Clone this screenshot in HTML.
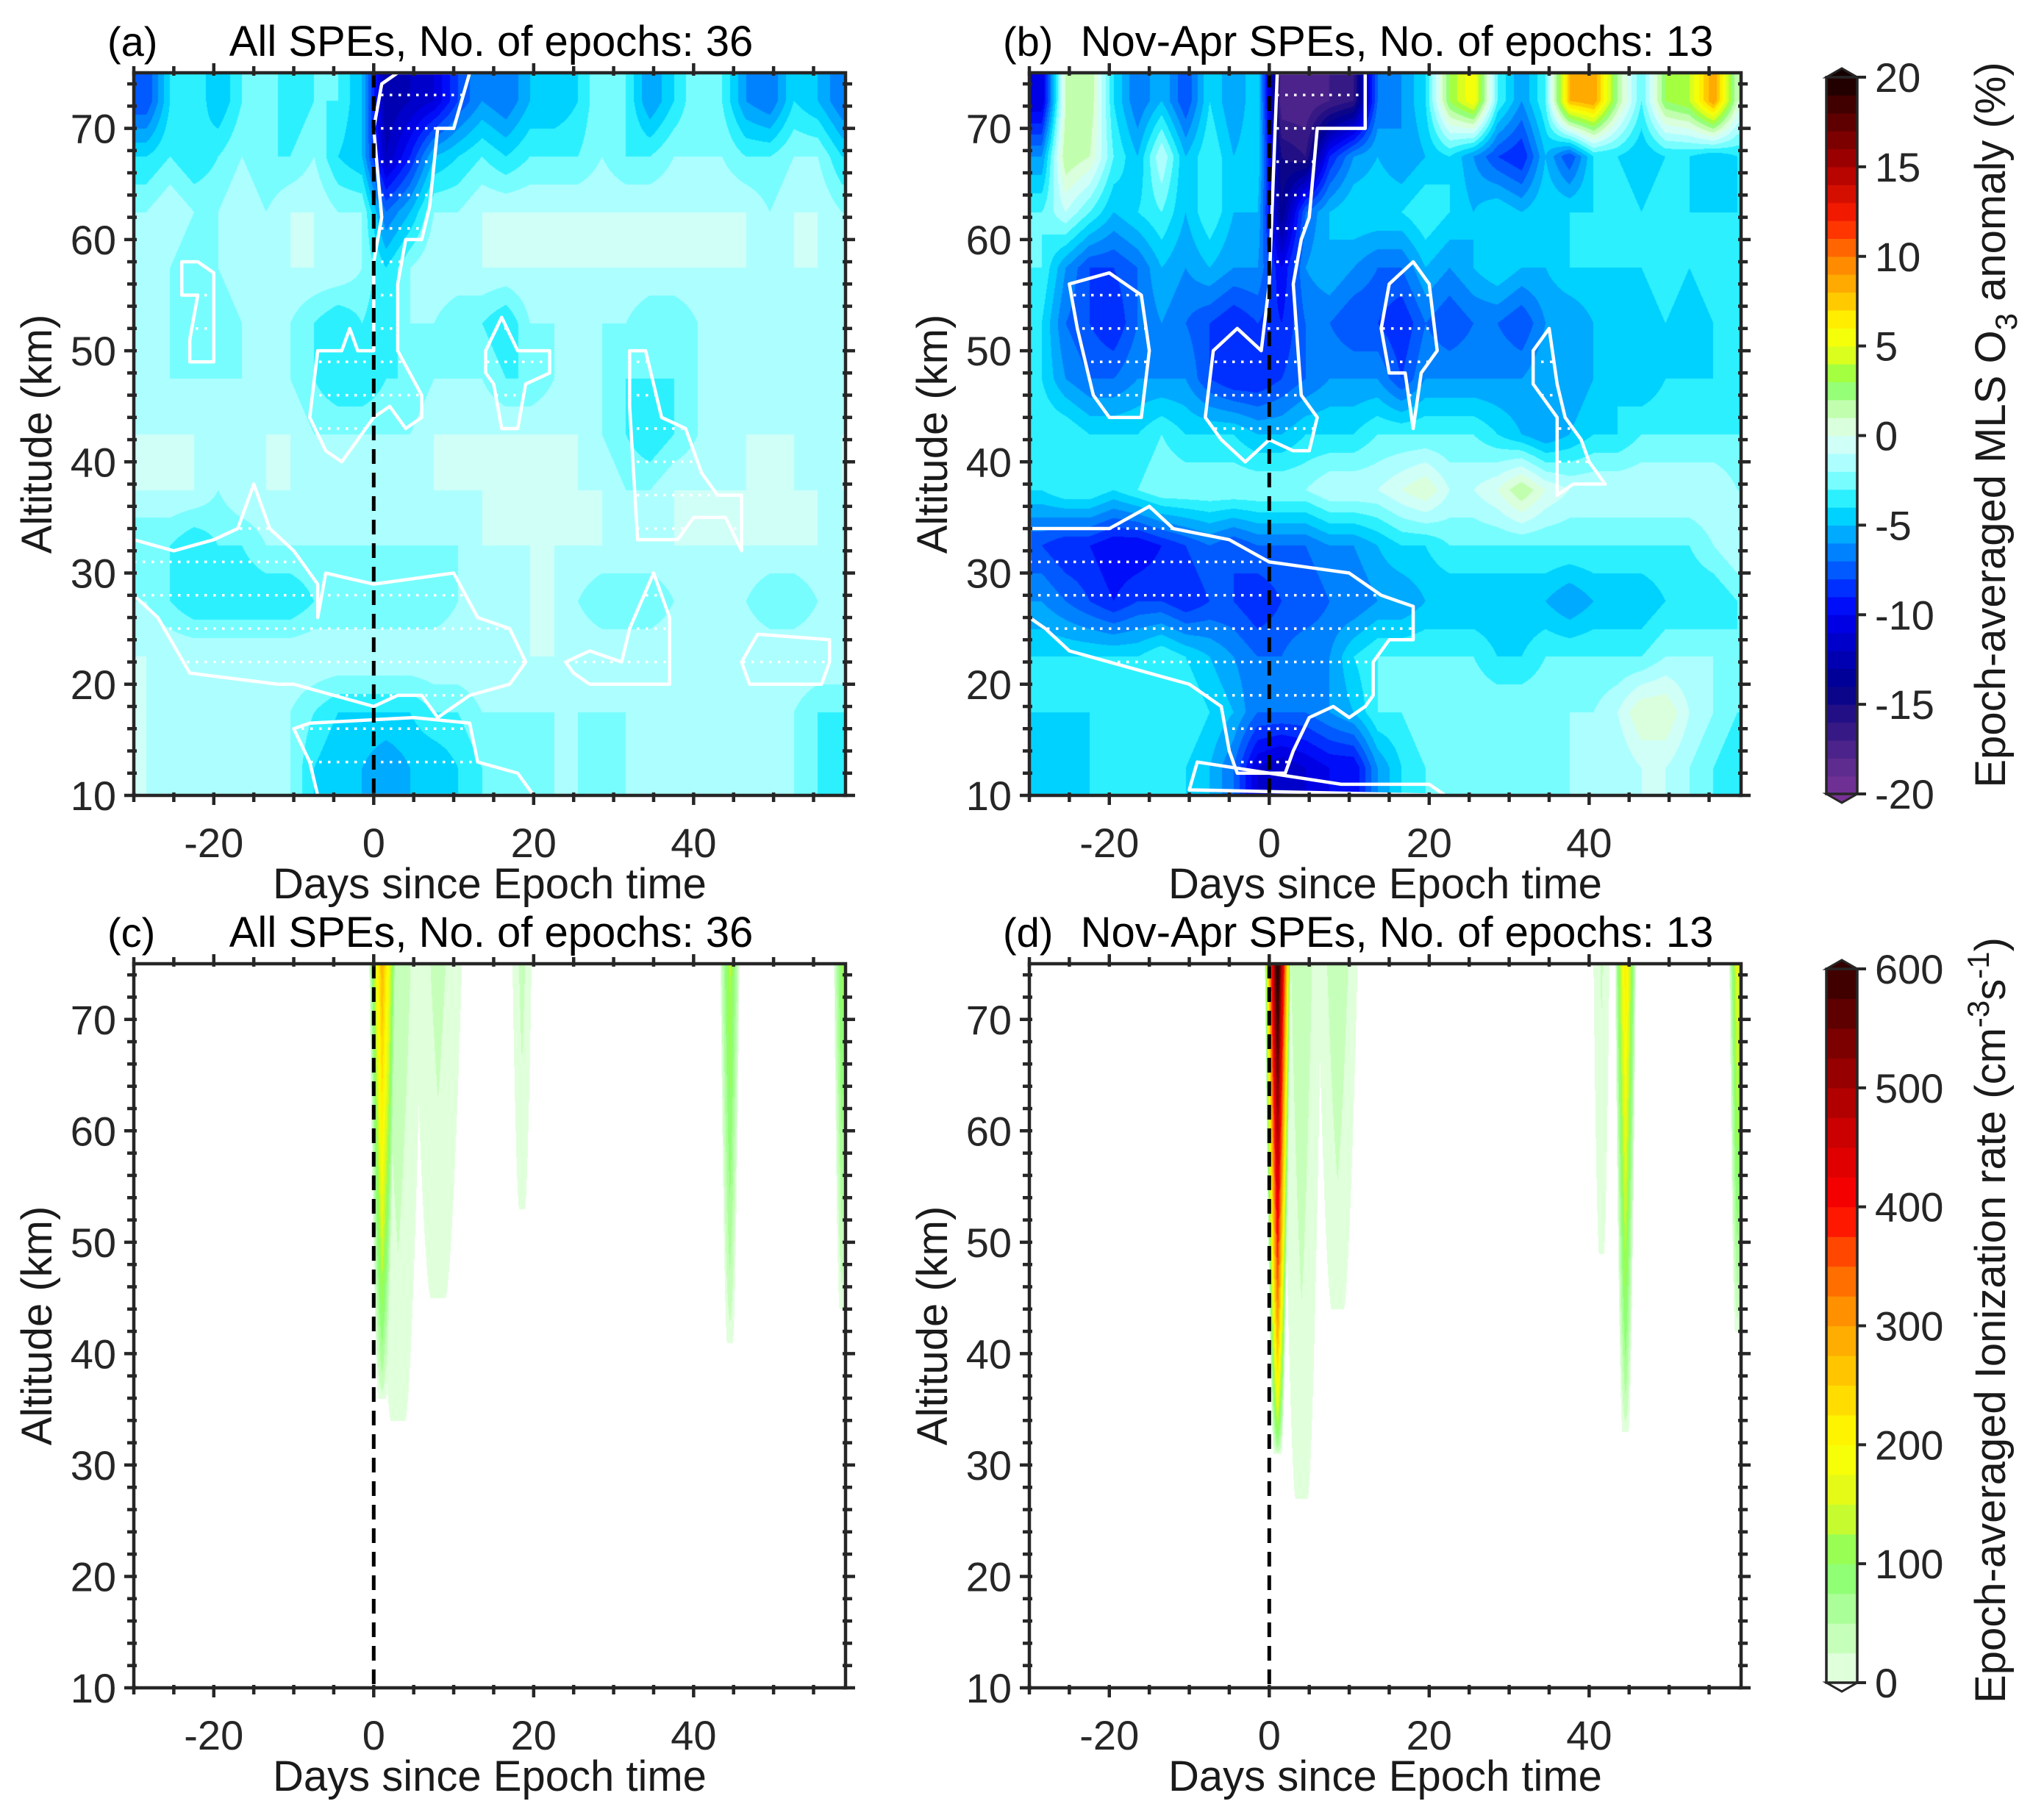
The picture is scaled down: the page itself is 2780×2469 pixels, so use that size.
<!DOCTYPE html>
<html><head><meta charset="utf-8">
<style>
body{margin:0;background:#fff;width:2780px;height:2469px;position:relative;overflow:hidden;font-family:"Liberation Sans",sans-serif;}
canvas{position:absolute;}
svg{position:absolute;left:0;top:0;}
</style></head>
<body>
<canvas id="ca" style="left:182px;top:99px" width="968" height="983"></canvas>
<canvas id="cb" style="left:1400px;top:99px" width="968" height="983"></canvas>
<canvas id="cc" style="left:182px;top:1311px" width="968" height="985"></canvas>
<canvas id="cd" style="left:1400px;top:1311px" width="968" height="985"></canvas>
<svg id="ov" width="2780" height="2469"></svg>
<script>
// ---- data ----
const dayStart=-30, dayStep=3, altRows=[72.5,67.5,62.5,57.5,52.5,47.5,42.5,37.5,32.5,27.5,22.5,17.5,12.5];
const o3A=[
[-8,-4,-3,-5,-3,-2,-4,-3,-3,-5,-13,-12,-11,-8,-6,-7,-5,-5,-4,-2,-3,-6,-4,-2,-3,-6,-7,-4,-5,-7],
[-4,-3,-4,-3,-2,-3,-3,-2,-4,-5,-12,-9,-5,-4,-3,-4,-3,-3,-3,-2,-3,-3,-2,-2,-2,-3,-3,-2,-2,-4],
[-2,-1,-2,-2,-1,-2,-1,-1,-2,-2,-7,-5,-2,-2,-1,-1,-1,-1,-1,-1,-1,-1,-1,-1,-1,-1,-2,-1,-1,-2],
[-1,-2,-3,-2,-1,-1,-1,-1,-1,-2,-4,-2,-1,-1,-1,-1,-1,-1,-1,-1,-1,-1,-1,-1,-1,-1,-1,-1,-1,-1],
[-2,-2,-3,-3,-2,-2,-2,-3,-4,-3,-4,-2,-2,-3,-3,-4,-2,-2,-2,-2,-2,-3,-3,-2,-2,-2,-2,-2,-2,-2],
[-2,-2,-2,-2,-2,-2,-2,-3,-4,-4,-3,-3,-2,-2,-2,-3,-3,-2,-2,-2,-3,-3,-3,-2,-2,-2,-2,-2,-2,-2],
[-1,-1,-1,-2,-2,-1,-1,-2,-2,-2,-2,-2,-1,-1,-1,-1,-1,-1,-1,-2,-3,-4,-3,-2,-2,-1,-1,-1,-2,-1],
[-1,-1,-1,-2,-1,-1,-1,-1,-1,-1,-1,-1,-1,-1,-1,-1,-1,-1,-1,-1,-2,-2,-1,-1,-1,-1,-1,-1,-1,-1],
[-3,-3,-4,-3,-3,-2,-2,-2,-2,-2,-2,-2,-2,-2,-1,-1,-1,-1,-1,-1,-1,-1,-1,-1,-1,-1,-1,-1,-1,-2],
[-2,-3,-4,-4,-4,-4,-4,-3,-3,-3,-3,-3,-3,-2,-2,-2,-1,-1,-2,-3,-3,-3,-2,-2,-2,-2,-3,-3,-2,-2],
[-1,-1,-1,-1,-1,-1,-1,-1,-1,-1,-1,-1,-1,-1,-1,-1,-1,-1,-1,-1,-1,-1,-1,-1,-1,-1,-1,-1,-1,-1],
[-1,-2,-2,-2,-2,-2,-2,-3,-4,-4,-4,-4,-3,-3,-2,-2,-2,-2,-2,-2,-2,-2,-2,-2,-2,-2,-2,-2,-3,-3],
[-1,-2,-2,-2,-2,-2,-2,-4,-5,-5,-6,-5,-5,-4,-3,-3,-3,-2,-2,-3,-2,-2,-2,-2,-2,-2,-2,-2,-3,-4]];
const o3B=[
[-11,1,2,-4,-7,-5,-8,-4,-6,-4,-18,-18,-17,-16,-7,-6,-4,3,6,-3,-6,-3,8,9,2,-3,3,4,9,1],
[-6,2,1,-3,-5,-1,-5,-3,-5,-4,-15,-16,-9,-6,-5,-6,-5,-4,-6,-8,-9,-5,-8,-4,-4,-5,-4,-4,-5,-4],
[-3,-1,-3,-5,-4,-3,-5,-3,-5,-5,-14,-7,-5,-4,-4,-4,-3,-4,-5,-4,-5,-4,-4,-4,-3,-4,-3,-4,-4,-4],
[-3,-6,-8,-8,-7,-5,-6,-5,-6,-6,-10,-6,-5,-6,-7,-7,-5,-6,-5,-4,-5,-5,-4,-4,-4,-4,-3,-4,-3,-3],
[-4,-7,-8,-9,-7,-6,-7,-8,-9,-8,-9,-7,-7,-8,-8,-9,-7,-8,-7,-7,-8,-6,-6,-5,-5,-5,-4,-5,-4,-4],
[-4,-6,-7,-7,-6,-6,-6,-8,-9,-9,-8,-7,-6,-6,-6,-8,-6,-6,-6,-6,-6,-5,-6,-5,-4,-5,-4,-4,-4,-4],
[-3,-3,-4,-4,-4,-3,-4,-4,-4,-5,-5,-4,-4,-4,-3,-3,-3,-3,-3,-4,-5,-6,-5,-4,-4,-3,-3,-3,-3,-3],
[-4,-3,-3,-4,-3,-2,-2,-2,-2,-2,-2,-2,-1,-1,-1,0,1,-1,-1,0,2,0,-1,-1,-1,-1,-1,-1,-1,-2],
[-8,-9,-9,-10,-10,-9,-8,-7,-8,-7,-7,-7,-6,-6,-5,-4,-4,-3,-3,-3,-3,-3,-3,-3,-3,-3,-3,-3,-2,-1],
[-6,-7,-8,-9,-8,-8,-9,-8,-8,-9,-8,-8,-7,-7,-6,-6,-5,-5,-5,-5,-5,-5,-6,-5,-5,-5,-4,-4,-4,-3],
[-4,-4,-4,-4,-4,-3,-4,-5,-6,-7,-7,-6,-6,-4,-3,-3,-3,-3,-3,-4,-4,-3,-3,-3,-3,-3,-2,-2,-2,-3],
[-4,-4,-4,-4,-3,-3,-3,-4,-5,-7,-7,-7,-6,-5,-3,-3,-2,-2,-2,-2,-2,-2,-2,-2,-1,1,1,-1,-2,-3],
[-5,-5,-4,-4,-3,-4,-4,-5,-7,-11,-12,-11,-10,-10,-6,-4,-3,-3,-3,-3,-3,-3,-2,-2,-2,-1,-1,-2,-3,-4]];
// ionization spikes
const spikeDayC=[1,3,8,18.5,44.5,58.5], spikePeakC=[260,40,30,30,130,110], spikeBotC=[36,34,45,53,41,44], spikeWidC=[1.6,3,3,1.2,1.2,1];
const spikeDayD=[1,4,8.5,41.5,44.5,58.5], spikePeakD=[650,40,40,25,220,170], spikeBotD=[31,27,44,49,33,42], spikeWidD=[1.6,2.5,2.5,1,1.3,1];
const xTicks=[-20,0,20,40], yTicks=[10,20,30,40,50,60,70];
const cb1Ticks=[20,15,10,5,0,-5,-10,-15,-20], cb2Ticks=[600,500,400,300,200,100,0];
// significance contour polygons [day,km]
const sigA=[
[[-30,33],[-25,32],[-20,33],[-17,34],[-15,38],[-13,34],[-10,32],[-7,29],[-7,26],[-6,30],[0,29],[10,30],[13,26],[17,25],[19,22],[17,20],[12,19],[8,17],[6,19],[3,19],[0,18],[-5,19],[-10,20],[-12,20],[-23,21],[-27,26],[-30,28]],
[[-10,16],[-8,16.5],[5,17],[12,16.5],[13,13],[18,12],[20,10],[-7,10],[-8,13]],
[[32,50],[34,50],[36,44],[39,43],[41,39],[43,37],[46,37],[46,32],[44,35],[40,35],[38,33],[33,33],[32,45]],
[[-7,50],[-4,50],[-3,52],[-2,50],[0,50],[0,58],[1,62],[0,70],[1,74],[3,75],[12,75],[10,70],[8,70],[7,63],[6,60],[4,60],[3,56],[3,50],[6,46],[6,44],[4,43],[2,45],[0,44],[-4,40],[-6,41],[-8,44]],
[[-24,58],[-22,58],[-20,57],[-20,49],[-23,49],[-23,51],[-22,55],[-24,55]],
[[14,50],[16,53],[18,50],[22,50],[22,48],[19,47],[18,43],[16,43],[15,47],[14,48]],
[[46,22],[48,24.5],[57,24],[57,22],[56,20],[47,20]],
[[24,22],[27,23],[31,22],[32,25],[35,30],[37,26],[37,20],[27,20],[25,21]]];
const sigB=[
[[-30,34],[-20,34],[-15,36],[-12,34],[-5,33],[0,31],[10,30],[14,28],[18,27],[18,24],[15,24],[13,22],[13,19],[12,18],[10,17],[8,18],[5,17],[3,14],[2,12],[-4,12],[-5,14],[-6,18],[-10,20],[-15,21],[-20,22],[-25,23],[-28,25],[-30,26]],
[[-25,56],[-20,57],[-16,55],[-15,50],[-16,44],[-20,44],[-22,46],[-24,52]],
[[-7,50],[-4,52],[-1,50],[0,56],[1,75],[12,75],[12,70],[6,70],[5,62],[4,60],[3,56],[4,46],[6,44],[5,41],[3,41],[0,42],[-3,40],[-6,42],[-8,44]],
[[15,56],[18,58],[20,56],[21,50],[19,48],[18,43],[17,48],[15,48],[14,52]],
[[33,50],[35,52],[36,47],[37,44],[39,42],[40,40],[42,38],[40,38],[38,38],[36,37],[36,44],[33,47]],
[[-10,10.5],[-9,13],[0,12],[9,11],[20,11],[22,10]]];
// ---- colours ----
const o3Stops=[[-20,[120,50,150]],[-18,[85,40,140]],[-16,[45,20,130]],[-14,[0,0,140]],[-12,[0,0,190]],[-10,[0,0,240]],[-9,[0,25,255]],[-8,[0,70,255]],[-7,[0,110,255]],[-6,[0,150,255]],[-5,[0,190,255]],[-4,[0,230,255]],[-3,[90,250,255]],[-2,[150,255,255]],[-1,[195,255,255]],[0,[220,255,240]],[1,[215,255,200]],[2,[170,255,150]],[3,[130,255,90]],[4,[200,255,40]],[5,[235,255,20]],[6,[255,255,0]],[8,[255,185,0]],[10,[255,125,0]],[12,[255,30,0]],[15,[170,0,0]],[17,[110,0,0]],[20,[20,0,0]]];
const ionStops=[[0,[255,255,255]],[12,[225,255,220]],[50,[185,255,170]],[100,[130,255,100]],[150,[220,250,30]],[200,[255,255,0]],[250,[255,210,0]],[300,[255,160,0]],[350,[255,95,0]],[400,[255,0,0]],[450,[215,0,0]],[500,[165,0,0]],[550,[110,0,0]],[600,[50,0,0]]];
function lerpStops(stops,v){
  if(v<=stops[0][0])return stops[0][1];
  for(let i=1;i<stops.length;i++){if(v<=stops[i][0]){const a=stops[i-1],b=stops[i],t=(v-a[0])/(b[0]-a[0]);return [0,1,2].map(k=>Math.round(a[1][k]+t*(b[1][k]-a[1][k])));}}
  return stops[stops.length-1][1];}
function o3Color(v){const q=Math.floor(v)+0.5;return lerpStops(o3Stops,Math.max(-20,Math.min(20,q)));}
function ionColor(v){if(v<2)return [255,255,255];const q=Math.floor(v/25)*25+12.5;return lerpStops(ionStops,Math.min(600,q));}
// ---- axes ----
const W=968;
function xPix(d,H){return (d-dayStart)/89*W;}
function yPix(a,H){return (75-a)/65*H;}
function sampleGrid(g,d,a){
  let c=(d-dayStart)/dayStep-0.5, r=(72.5-a)/5;
  c=Math.max(0,Math.min(g[0].length-1,c)); r=Math.max(0,Math.min(g.length-1,r));
  const c0=Math.floor(c),r0=Math.floor(r),c1=Math.min(c0+1,g[0].length-1),r1=Math.min(r0+1,g.length-1),tc=c-c0,tr=r-r0;
  return (g[r0][c0]*(1-tc)+g[r0][c1]*tc)*(1-tr)+(g[r1][c0]*(1-tc)+g[r1][c1]*tc)*tr;}
function drawO3(id,g){
  const cv=document.getElementById(id),ctx=cv.getContext('2d'),H=cv.height,img=ctx.createImageData(W,H);
  for(let y=0;y<H;y++){const a=75-y/H*65;for(let x=0;x<W;x++){const d=dayStart+x/W*89;const col=o3Color(sampleGrid(g,d,a));const i=(y*W+x)*4;img.data[i]=col[0];img.data[i+1]=col[1];img.data[i+2]=col[2];img.data[i+3]=255;}}
  ctx.putImageData(img,0,0);}
function ionVal(days,peaks,bots,wids,d,a){
  let s=0;for(let k=0;k<days.length;k++){if(a<bots[k])continue;const f=Math.pow((a-bots[k])/(75-bots[k]),0.6);const w=wids[k]*(0.3+0.7*f);const t=1-Math.abs(d-days[k])/w;if(t>0)s+=peaks[k]*f*Math.pow(t,0.8)+ (peaks[k]>0?3:0);}
  return s;}
function drawIon(id,days,peaks,bots,wids){
  const cv=document.getElementById(id),ctx=cv.getContext('2d'),H=cv.height,img=ctx.createImageData(W,H);
  for(let y=0;y<H;y++){const a=75-y/H*65;for(let x=0;x<W;x++){const d=dayStart+x/W*89;const col=ionColor(ionVal(days,peaks,bots,wids,d,a));const i=(y*W+x)*4;img.data[i]=col[0];img.data[i+1]=col[1];img.data[i+2]=col[2];img.data[i+3]=255;}}
  ctx.putImageData(img,0,0);}
drawO3('ca',o3A);drawO3('cb',o3B);
drawIon('cc',spikeDayC,spikePeakC,spikeBotC,spikeWidC);
drawIon('cd',spikeDayD,spikePeakD,spikeBotD,spikeWidD);
// ---- svg overlay ----
const NS='http://www.w3.org/2000/svg',ov=document.getElementById('ov');
function mk(tag,attrs,parent){const e=document.createElementNS(NS,tag);for(const k in attrs)e.setAttribute(k,attrs[k]);(parent||ov).appendChild(e);return e;}
const defs=mk('defs',{});
function panel(key,L,T,H,title,tag,sig,titleX){
  const g=mk('g',{});
  
  
  if(sig){
    const cp=mk('clipPath',{id:'clip'+key},defs);
    sig.forEach(poly=>{mk('polygon',{points:poly.map(p=>(L+xPix(p[0],H))+','+(T+yPix(p[1],H))).join(' ')},cp);});
    const dots=mk('g',{'clip-path':'url(#clip'+key+')'},g);
    
    
    for(let a=13;a<75;a+=3){mk('line',{x1:L,x2:L+W,y1:T+yPix(a,H),y2:T+yPix(a,H),stroke:'#fff','stroke-width':3.5,'stroke-dasharray':'3.5 8.5'},dots);}
    sig.forEach(poly=>{const p=mk('polygon',{points:poly.map(p=>(L+xPix(p[0],H))+','+(T+yPix(p[1],H))).join(' '),fill:'none',stroke:'#fff','stroke-width':4.5,'stroke-linejoin':'round'},g);
      
      });
  }
  const z=mk('line',{x1:L+xPix(0,H),x2:L+xPix(0,H),y1:T,y2:T+H,stroke:'#000','stroke-width':5,'stroke-dasharray':'20 12'},g);
  
  
  const fr=mk('rect',{x:L,y:T,width:W,height:H,fill:'none',stroke:'#262626','stroke-width':4.5},g);
  
  
  for(let d=-30;d<=55;d+=5){const x=L+xPix(d,H),mj=xTicks.includes(d),len=mj?13:9;
    mk('line',{x1:x,x2:x,y1:T+H-4,y2:T+H+len,stroke:'#262626','stroke-width':4.5},g);
    mk('line',{x1:x,x2:x,y1:T-len,y2:T+4,stroke:'#262626','stroke-width':4.5},g);}
  for(let a=10;a<=74;a+=2){const y=T+yPix(a,H),mj=yTicks.includes(a),len=mj?13:9;
    mk('line',{x1:L-len,x2:L+4,y1:y,y2:y,stroke:'#262626','stroke-width':4.5},g);
    mk('line',{x1:L+W-4,x2:L+W+len,y1:y,y2:y,stroke:'#262626','stroke-width':4.5},g);}
  xTicks.forEach(d=>{const t=mk('text',{x:L+xPix(d,H),y:T+H+84,'font-size':56,'text-anchor':'middle',fill:'#262626'},g);t.textContent=d;
    
    });
  yTicks.forEach(a=>{const t=mk('text',{x:L-24,y:T+yPix(a,H)+20,'font-size':56,'text-anchor':'end',fill:'#262626'},g);t.textContent=a;
    
    });
  const xl=mk('text',{x:L+W/2,y:T+H+140,'font-size':58,'text-anchor':'middle',fill:'#1a1a1a'},g);xl.textContent='Days since Epoch time';
  
  
  const yl=mk('text',{x:0,y:0,'font-size':58,'text-anchor':'middle',fill:'#1a1a1a',transform:'translate('+(L-112)+','+(T+H/2)+') rotate(-90)'},g);yl.textContent='Altitude (km)';
  
  
  const tg=mk('text',{x:L-36,y:T-23,'font-size':56,fill:'#000'},g);tg.textContent=tag;
  
  
  const tt=mk('text',{x:titleX,y:T-23,'font-size':58,'text-anchor':'middle',fill:'#000'},g);tt.textContent=title;
  
  
}
panel('a',182,99,983,'All SPEs, No. of epochs: 36','(a)',sigA,668);
panel('b',1400,99,983,'Nov-Apr SPEs, No. of epochs: 13','(b)',sigB,1900);
panel('c',182,1311,985,'All SPEs, No. of epochs: 36','(c)',null,668);
panel('d',1400,1311,985,'Nov-Apr SPEs, No. of epochs: 13','(d)',null,1900);
// ---- colorbars ----
function colorbar(key,top,bot,lo,hi,step,colFn,ticks,ly){
  const g=mk('g',{});
  
  
  const x0=2484,x1=2526,H=bot-top;
  for(let v=lo;v<hi;v+=step){const y1=top+(hi-v-step)/(hi-lo)*H,h=step/(hi-lo)*H;const c=colFn(v+step/2);
    mk('rect',{x:x0,y:y1,width:x1-x0,height:h+0.6,fill:'rgb('+c+')'},g);}
  mk('polygon',{points:x0+','+top+' '+(x0+x1)/2+','+(top-12)+' '+x1+','+top,fill:'rgb('+colFn(hi+100)+')',stroke:'#262626','stroke-width':3},g);
  mk('polygon',{points:x0+','+bot+' '+(x0+x1)/2+','+(bot+12)+' '+x1+','+bot,fill:'rgb('+colFn(lo-100)+')',stroke:'#262626','stroke-width':3},g);
  mk('rect',{x:x0,y:top,width:x1-x0,height:H,fill:'none',stroke:'#262626','stroke-width':3.5},g);
  ticks.forEach(v=>{const y=top+(hi-v)/(hi-lo)*H;mk('line',{x1:x1,x2:x1+12,y1:y,y2:y,stroke:'#262626','stroke-width':4},g);
    const t=mk('text',{x:2550,y:y+20,'font-size':56,fill:'#262626'},g);t.textContent=(v<0?'-':'')+Math.abs(v);
    
    });
  const t=mk('text',{x:0,y:0,'font-size':58,'text-anchor':'middle',fill:'#1a1a1a',transform:'translate(2727,'+ly+') rotate(-90)'},g);
  
  
  return t;}
const t1=colorbar('o3',105,1080,-20,20,1,o3Color,cb1Ticks,578);
t1.innerHTML='Epoch-averaged MLS O<tspan dy="16" font-size="42">3</tspan><tspan dy="-16"> anomaly (%)</tspan>';
const t2=colorbar('ion',1318,2289,0,600,25,ionColor,cb2Ticks,1796);
t2.innerHTML='Epoch-averaged Ionization rate (cm<tspan dy="-22" font-size="42">-3</tspan><tspan dy="22">s</tspan><tspan dy="-22" font-size="42">-1</tspan><tspan dy="22">)</tspan>';
</script>
</body></html>
